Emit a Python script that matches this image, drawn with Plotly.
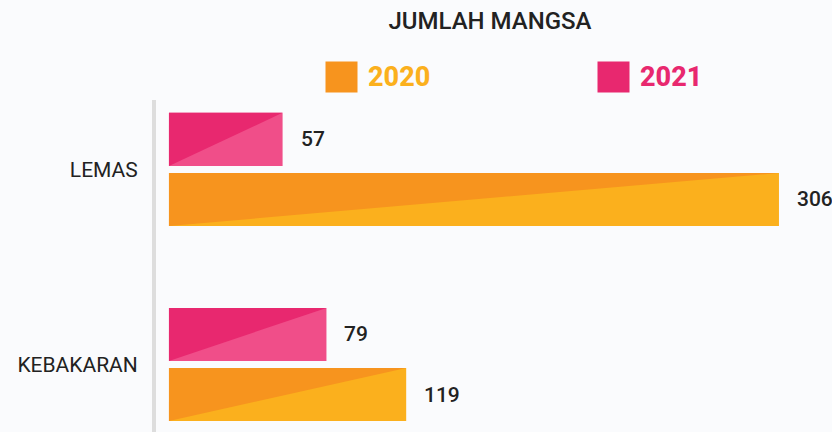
import plotly.graph_objects as go

# data
categories = ["KEBAKARAN", "LEMAS"]
years = ["2020", "2021"]
mangsa_2020 = [119, 306]
mangsa_2021 = [79, 57]

W, H = 832, 432
ML, MT = 156, 100  # plot area left / top in px
PW, PH = W - ML, H - MT

# colours: (dark triangle, light bar)
pink_dark, pink_light = "#E8286F", "#F04E89"
orange_dark, orange_light = "#F7941E", "#FBB01D"


def px_x(px):
    return (px - ML) / PW


def px_y(py):
    return (H - py) / PH


fig = go.Figure()

positions = list(range(len(categories)))
bar_w = 0.272
series = [
    ("2021", mangsa_2021, 0.018, pink_dark, pink_light),
    ("2020", mangsa_2020, -0.29, orange_dark, orange_light),
]

for name, vals, off, dark, light in series:
    fig.add_trace(
        go.Bar(
            y=positions,
            x=vals,
            orientation="h",
            width=bar_w,
            offset=off,
            marker=dict(color=light, line=dict(width=0)),
            name=name,
            showlegend=False,
            hoverinfo="x",
        )
    )
    # darker upper-left triangle on each bar
    for p, v in zip(positions, vals):
        bottom = p + off
        top = p + off + bar_w
        fig.add_trace(
            go.Scatter(
                x=[0, v, 0, 0],
                y=[top, top, bottom, top],
                mode="lines",
                fill="toself",
                fillcolor=dark,
                line=dict(width=0, color=dark),
                showlegend=False,
                hoverinfo="skip",
            )
        )
        fig.add_annotation(
            x=v,
            y=p + off + bar_w / 2,
            text=str(v),
            showarrow=False,
            xanchor="left",
            xshift=16,
            font=dict(family="Roboto", size=21, color="#222222", weight=500),
        )

# legend drawn by hand
legend_items = [
    ("2020", orange_dark, orange_light, 341.5, 366),
    ("2021", pink_dark, pink_dark, 613.5, 638),
]
for label, sq_col, txt_col, sq_x, txt_x in legend_items:
    fig.add_annotation(
        x=px_x(sq_x), y=px_y(77), xref="paper", yref="paper",
        xanchor="center", yanchor="middle",
        text=" ", showarrow=False, width=31, height=30,
        bgcolor=sq_col, borderpad=0,
    )
    fig.add_annotation(
        x=px_x(txt_x), y=px_y(77), xref="paper", yref="paper",
        text=label, showarrow=False, xanchor="left", yanchor="middle",
        font=dict(family="Roboto", size=27, color=txt_col, weight=800),
    )

fig.update_layout(
    width=W,
    height=H,
    margin=dict(l=ML, r=0, t=MT, b=0),
    paper_bgcolor="#FAFBFD",
    plot_bgcolor="rgba(0,0,0,0)",
    barmode="overlay",
    title=dict(
        text="JUMLAH MANGSA",
        x=490 / W, xanchor="center",
        y=1 - 21 / H, yanchor="middle", yref="container",
        font=dict(family="Roboto", size=24, color="#222222", weight=500),
    ),
    xaxis=dict(
        range=[-6.5, 332.6],
        showgrid=False, zeroline=False, showticklabels=False, fixedrange=True,
    ),
    yaxis=dict(
        range=[-0.346, 1.356],
        tickvals=positions,
        ticktext=categories,
        showgrid=False, zeroline=False,
        showline=True, linecolor="#DDDDDD", linewidth=4,
        ticks="outside", ticklen=10, tickcolor="rgba(0,0,0,0)",
        tickfont=dict(family="Roboto", size=21, color="#222222"),
    ),
)

fig.write_html(
    "out.html",
    config={"displayModeBar": False},
    post_script="document.body.style.margin='0';",
)
